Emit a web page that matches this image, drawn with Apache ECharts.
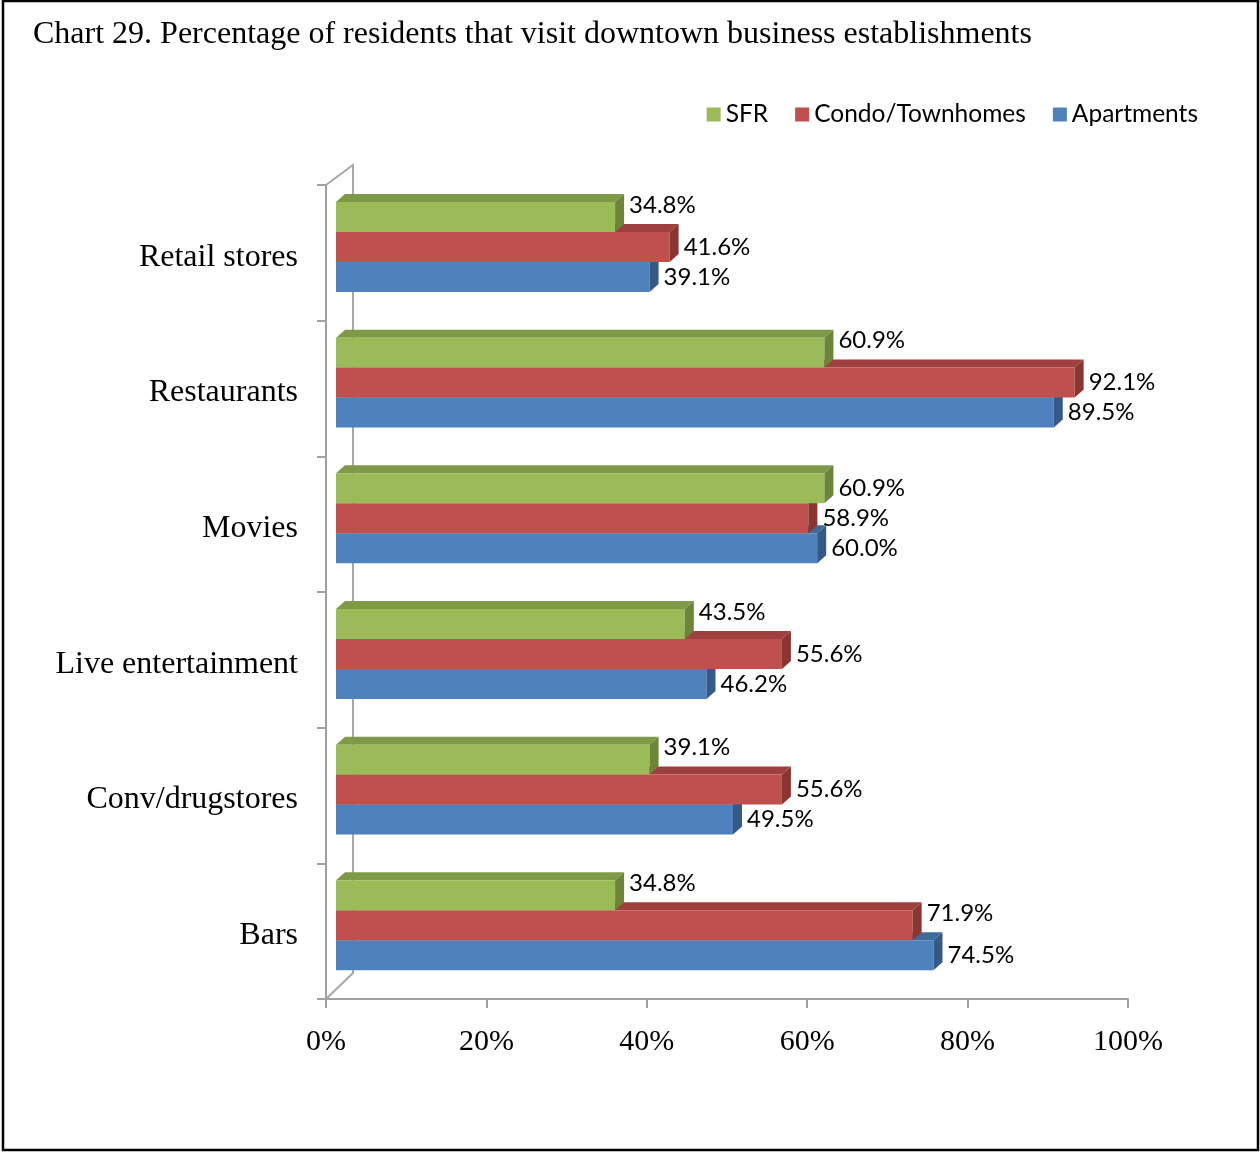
<!DOCTYPE html>
<html>
<head>
<meta charset="utf-8">
<title>Chart 29</title>
<script src="https://cdn.jsdelivr.net/npm/echarts@6/dist/echarts.min.js"></script>
<style>
  html, body { margin: 0; padding: 0; background: #ffffff; }
  #chart { width: 1260px; height: 1152px; }
</style>
</head>
<body>
<div id="chart"></div>
<script>
// Survey categories, top to bottom
const categories = ['Retail stores', 'Restaurants', 'Movies', 'Live entertainment', 'Conv/drugstores', 'Bars'];

// Share of residents (%) per housing type
const sfr        = [34.8, 60.9, 60.9, 43.5, 39.1, 34.8];
const condo      = [41.6, 92.1, 58.9, 55.6, 55.6, 71.9];
const apartments = [39.1, 89.5, 60.0, 46.2, 49.5, 74.5];

const seriesNames = ['SFR', 'Condo/Townhomes', 'Apartments'];
const seriesValues = [sfr, condo, apartments];

// Value axis ticks
const axisMin = 0, axisMax = 100, axisStep = 20;

// Face colours: front, top, side
const palette = [
  { front: '#9BBB59', top: '#7E9A46', side: '#6C8539' },
  { front: '#C0504D', top: '#9E403D', side: '#8A3532' },
  { front: '#4F81BD', top: '#40699C', side: '#365A87' }
];

// 3-D extrusion and offset of the bars (pixels)
const SHIFT = 10, DX = 9, DY = 8;

const chart = echarts.init(document.getElementById('chart'), null, { renderer: 'canvas' });

function makeRender(k) {
  return function (params, api) {
    const cat = api.value(0);
    const val = api.value(1);
    const base = api.coord([0, cat]);
    const end = api.coord([val, cat]);
    const band = api.size([0, 1])[1];
    const bandTop = base[1] - band / 2;
    const barH = band * 0.221;
    const yTop = bandTop + band * 0.125 + k * barH;
    const x0 = base[0] + SHIFT;
    const x1 = end[0] + SHIFT;
    const c = palette[k];

    // lift the label when the bar underneath runs further out
    let lift = 0;
    if (k < seriesValues.length - 1 && seriesValues[k + 1][cat] - val > 2) lift = -12;

    return {
      type: 'group',
      children: [
        { type: 'polygon', shape: { points: [[x0, yTop], [x1, yTop], [x1 + DX, yTop - DY], [x0 + DX, yTop - DY]] },
          style: { fill: c.top } },
        { type: 'rect', shape: { x: x0, y: yTop, width: x1 - x0, height: barH },
          style: { fill: c.front } },
        { type: 'polygon', shape: { points: [[x1, yTop], [x1 + DX, yTop - DY], [x1 + DX, yTop + barH - DY], [x1, yTop + barH]] },
          style: { fill: c.side } },
        { type: 'text', x: x1 + DX + 5, y: yTop + barH / 2 + lift,
          style: { text: val.toFixed(1) + '%', fill: '#000', font: '24px Lato',
                   verticalAlign: 'middle', align: 'left' } }
      ]
    };
  };
}

const series = seriesNames.map(function (name, k) {
  return {
    name: name,
    type: 'custom',
    renderItem: makeRender(k),
    encode: { x: 1, y: 0 },
    z: 10 - k,
    itemStyle: { color: palette[k].front },
    data: seriesValues[k].map(function (v, i) { return [i, v]; })
  };
});

const gridLeft = 326, gridTop = 185, gridRight = 132, gridBottom = 153;

chart.setOption({
  animation: false,
  backgroundColor: '#ffffff',
  title: {
    text: 'Chart 29. Percentage of residents that visit downtown business establishments',
    left: 28, top: 14,
    textStyle: { fontFamily: 'Liberation Serif', fontSize: 32, fontWeight: 'normal', color: '#000' }
  },
  legend: {
    data: seriesNames,
    right: 57, top: 97,
    icon: 'rect', itemWidth: 14, itemHeight: 14, itemGap: 27,
    textStyle: { fontFamily: 'Lato', fontSize: 24.5, color: '#000' }
  },
  grid: { left: gridLeft, top: gridTop, right: gridRight, bottom: gridBottom, containLabel: false },
  xAxis: {
    type: 'value', min: axisMin, max: axisMax, interval: axisStep,
    axisLine: { show: true, lineStyle: { color: '#A0A0A0', width: 2 } },
    axisTick: { show: true, length: 9, lineStyle: { color: '#A0A0A0', width: 2 } },
    splitLine: { show: false },
    axisLabel: { formatter: '{value}%', margin: 28, fontFamily: 'Liberation Serif', fontSize: 30, color: '#000' }
  },
  yAxis: {
    type: 'category', data: categories, inverse: true,
    axisLine: { show: true, lineStyle: { color: '#A0A0A0', width: 2 } },
    axisTick: { show: true, length: 9, lineStyle: { color: '#A0A0A0', width: 2 } },
    axisLabel: {
      margin: 28,
      formatter: '{c|{value}}',
      rich: { c: { padding: [9, 0, 0, 0], fontFamily: 'Liberation Serif', fontSize: 32, color: '#000' } }
    }
  },
  series: series
});

// Back wall of the 3-D plot area and the outer frame
const wx = chart.convertToPixel({ xAxisIndex: 0 }, axisMin);
const wTop = gridTop, wBottom = 1152 - gridBottom;
chart.setOption({
  graphic: [
    { type: 'polyline', z: 1, silent: true,
      shape: { points: [[wx, wTop], [wx + 27, wTop - 20], [wx + 27, wBottom - 26], [wx, wBottom]] },
      style: { stroke: '#A8A8A8', lineWidth: 2, fill: null } },
    { type: 'rect', silent: true,
      shape: { x: 3, y: 1, width: 1255, height: 1149 },
      style: { stroke: '#000', lineWidth: 2.5, fill: null } }
  ]
});
</script>
</body>
</html>
